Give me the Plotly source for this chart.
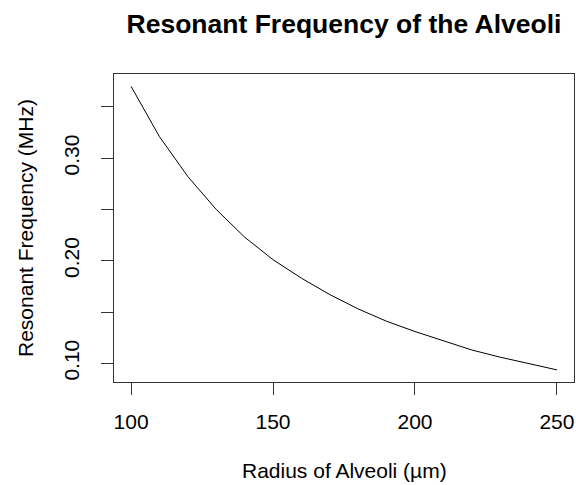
import plotly.graph_objects as go

radius_um = [100, 110, 120, 130, 140, 150, 160, 170, 180, 190, 200, 210, 220, 230, 240, 250]
freq_mhz = [0.370, 0.321, 0.282, 0.250, 0.223, 0.201, 0.183, 0.167, 0.153, 0.141,
            0.131, 0.122, 0.113, 0.106, 0.0995, 0.0936]

x_ticks = [100, 150, 200, 250]
y_ticks = [0.10, 0.15, 0.20, 0.25, 0.30, 0.35]
y_tick_labels = ["0.10", "", "0.20", "", "0.30", ""]

FONT = "Liberation Sans, Arial, sans-serif"

W, H = 576, 485

fig = go.Figure()
fig.add_trace(go.Scatter(x=radius_um, y=freq_mhz, mode="lines",
                         line=dict(color="black", width=1), showlegend=False,
                         hoverinfo="skip"))

fig.update_layout(
    width=W, height=H,
    margin=dict(l=114, r=2, t=74, b=103),
    paper_bgcolor="white", plot_bgcolor="white",
    font=dict(family=FONT, size=21, color="black"),
    title=dict(text="<b>Resonant Frequency of the Alveoli</b>",
               font=dict(family=FONT, size=26.5, color="black"),
               x=0.5, xref="paper", xanchor="center",
               y=1 - 24 / H, yref="container", yanchor="middle"),
    xaxis=dict(range=[94, 256], tickvals=x_ticks, ticks="outside", ticklen=12,
               tickcolor="#333", tickwidth=1, showgrid=False, zeroline=False,
               showline=True, linecolor="#333", linewidth=1, mirror=True,
               ticklabelstandoff=9, tickfont=dict(size=21)),
    yaxis=dict(range=[0.0818, 0.382], tickvals=y_ticks, ticktext=y_tick_labels,
               ticks="outside", ticklen=12, tickangle=-90,
               tickcolor="#333", tickwidth=1, showgrid=False, zeroline=False,
               showline=True, linecolor="#333", linewidth=1, mirror=True,
               ticklabelstandoff=14, tickfont=dict(size=21)),
    annotations=[
        dict(text="Radius of Alveoli (\u00b5m)", xref="paper", yref="paper",
             x=0.5, y=0, xanchor="center", yanchor="middle", yshift=-88,
             showarrow=False, font=dict(size=21)),
        dict(text="Resonant Frequency (MHz)", xref="paper", yref="paper",
             x=0, y=0.5, xanchor="center", yanchor="middle", xshift=-89,
             textangle=-90, showarrow=False, font=dict(size=21)),
    ],
)

fig.write_html("out.html", config={"displayModeBar": False},
               post_script="document.body.style.margin='0';document.body.style.overflow='hidden';")
